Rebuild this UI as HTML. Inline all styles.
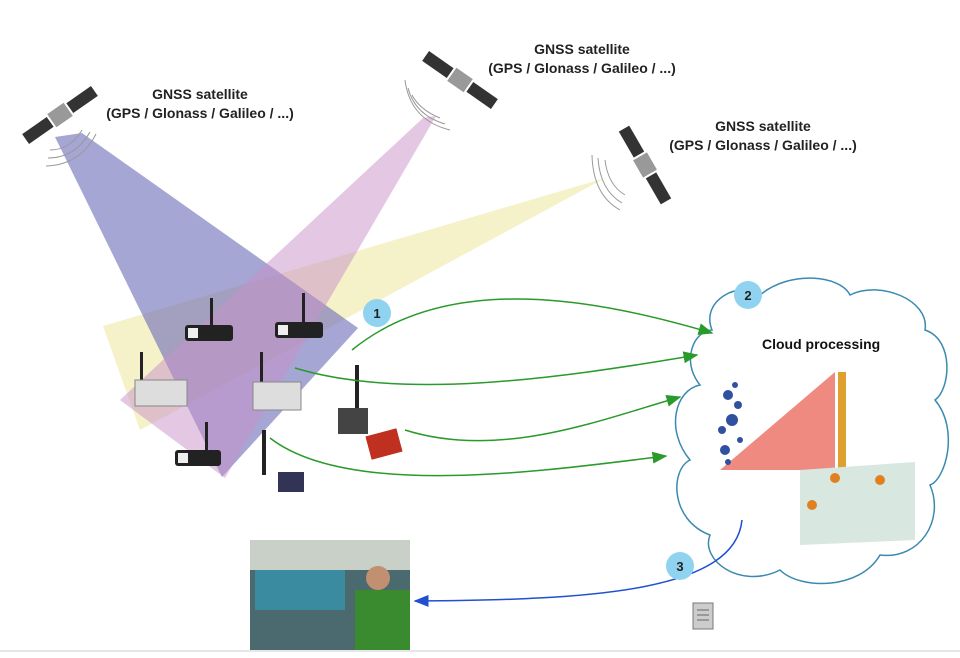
<!DOCTYPE html>
<html><head><meta charset="utf-8"><style>
html,body{margin:0;padding:0;background:#fff;width:960px;height:658px;overflow:hidden}
svg{display:block}
text{font-family:"Liberation Sans",sans-serif}
</style></head><body>
<svg width="960" height="658" viewBox="0 0 960 658" xmlns="http://www.w3.org/2000/svg">
<defs>
<marker id="ag" markerWidth="10" markerHeight="8" refX="9" refY="4" orient="auto"><path d="M0,0 L10,4 L0,8 z" fill="#2a9a2a"/></marker>
<marker id="ab" markerWidth="10" markerHeight="8" refX="9" refY="4" orient="auto"><path d="M0,0 L10,4 L0,8 z" fill="#2050d0"/></marker>
</defs>
<rect width="960" height="658" fill="#fff"/>
<!-- beams -->
<polygon points="605,178 103,326 140,430" fill="#f3efbf" opacity="0.85"/>
<polygon points="55,137 82,133 358,328 222,477" fill="#6a6ab8" opacity="0.6"/>
<polygon points="423,118 436,116 225,478 120,400" fill="#c890c8" opacity="0.5"/>
<!-- satellites -->
<g transform="translate(60,115) rotate(-35)">
<rect x="-42" y="-6" width="30" height="12" fill="#333"/><rect x="12" y="-6" width="30" height="12" fill="#333"/>
<rect x="-10" y="-8" width="20" height="16" fill="#999"/></g>
<g transform="translate(460,80) rotate(35)">
<rect x="-42" y="-6" width="30" height="12" fill="#333"/><rect x="12" y="-6" width="30" height="12" fill="#333"/>
<rect x="-10" y="-8" width="20" height="16" fill="#999"/></g>
<g transform="translate(645,165) rotate(60)">
<rect x="-42" y="-6" width="30" height="12" fill="#333"/><rect x="12" y="-6" width="30" height="12" fill="#333"/>
<rect x="-10" y="-8" width="20" height="16" fill="#999"/></g>
<g fill="none" stroke="#999" stroke-width="1">
<path d="M50,150 Q70,150 82,130"/><path d="M48,158 Q75,158 90,132"/><path d="M46,166 Q80,165 96,134"/>
<path d="M412,95 Q420,110 440,118"/><path d="M408,88 Q415,115 445,124"/><path d="M405,80 Q410,120 450,130"/>
<path d="M605,160 Q608,185 625,195"/><path d="M598,158 Q600,190 622,203"/><path d="M592,155 Q593,195 620,210"/>
</g>
<g font-size="14" font-weight="bold" fill="#222" text-anchor="middle">
<text x="200" y="99">GNSS satellite</text><text x="200" y="118">(GPS / Glonass / Galileo / ...)</text>
<text x="582" y="54">GNSS satellite</text><text x="582" y="73">(GPS / Glonass / Galileo / ...)</text>
<text x="763" y="131">GNSS satellite</text><text x="763" y="150">(GPS / Glonass / Galileo / ...)</text>
</g>
<!-- devices -->
<g fill="#222">
<rect x="185" y="325" width="48" height="16" rx="3"/><rect x="210" y="298" width="3" height="28"/>
<rect x="275" y="322" width="48" height="16" rx="3"/><rect x="302" y="293" width="3" height="30"/>
<rect x="175" y="450" width="46" height="16" rx="3"/><rect x="205" y="422" width="3" height="30"/>
<rect x="140" y="352" width="3" height="30"/><rect x="260" y="352" width="3" height="30"/>
<rect x="355" y="365" width="4" height="45"/><rect x="262" y="430" width="4" height="45"/>
</g>
<g fill="#eee"><rect x="188" y="328" width="10" height="10"/><rect x="278" y="325" width="10" height="10"/><rect x="178" y="453" width="10" height="10"/></g>
<rect x="135" y="380" width="52" height="26" fill="#ddd" stroke="#888"/>
<rect x="253" y="382" width="48" height="28" fill="#ddd" stroke="#888"/>
<rect x="338" y="408" width="30" height="26" fill="#444"/>
<rect x="368" y="432" width="32" height="24" fill="#c03020" transform="rotate(-15 384 444)"/>
<rect x="278" y="472" width="26" height="20" fill="#335" />
<!-- cloud -->
<path d="M712,330 C700,300 740,280 760,295 C790,270 840,275 850,295 C880,280 930,300 925,330 C955,340 950,390 935,400 C960,430 945,480 930,485 C945,520 920,560 880,555 C860,590 800,590 780,570 C740,590 700,560 710,535 C670,520 670,470 690,460 C665,430 675,390 700,385 C680,360 695,330 712,330 Z" fill="#fff" stroke="#3a8ab0" stroke-width="1.5"/>
<text x="762" y="349" font-size="14" font-weight="bold" fill="#111">Cloud processing</text>
<polygon points="720,470 835,372 835,470" fill="#ee8a80"/>
<rect x="838" y="372" width="8" height="98" fill="#e0a030"/>
<g fill="#3050a0"><circle cx="728" cy="395" r="5"/><circle cx="732" cy="420" r="6"/><circle cx="725" cy="450" r="5"/><circle cx="738" cy="405" r="4"/><circle cx="735" cy="385" r="3"/><circle cx="722" cy="430" r="4"/><circle cx="740" cy="440" r="3"/><circle cx="728" cy="462" r="3"/></g>
<polygon points="800,470 915,462 915,540 800,545" fill="#d8e8e0"/>
<circle cx="835" cy="478" r="5" fill="#e08020"/><circle cx="880" cy="480" r="5" fill="#e08020"/><circle cx="812" cy="505" r="5" fill="#e08020"/>
<!-- arrows -->
<g fill="none" stroke="#2a9a2a" stroke-width="1.5" marker-end="url(#ag)">
<path d="M352,350 C450,270 600,300 712,333"/>
<path d="M295,368 C400,400 550,380 697,355"/>
<path d="M405,430 C500,460 600,420 680,397"/>
<path d="M270,438 C350,500 550,470 666,456"/>
</g>
<path d="M742,520 C735,590 600,600 415,601" fill="none" stroke="#2050d0" stroke-width="1.5" marker-end="url(#ab)"/>
<!-- numbers -->
<g font-size="13" font-weight="bold" fill="#222" text-anchor="middle">
<circle cx="377" cy="313" r="14" fill="#8fd3f0"/><text x="377" y="318">1</text>
<circle cx="748" cy="295" r="14" fill="#8fd3f0"/><text x="748" y="300">2</text>
<circle cx="680" cy="566" r="14" fill="#8fd3f0"/><text x="680" y="571">3</text>
</g>
<!-- photo -->
<rect x="250" y="540" width="160" height="110" fill="#4a6a70"/>
<rect x="250" y="540" width="160" height="30" fill="#c8d0c8"/>
<rect x="255" y="570" width="90" height="40" fill="#3a8aa0"/>
<rect x="355" y="590" width="55" height="60" fill="#3a8a30"/>
<circle cx="378" cy="578" r="12" fill="#c09070"/>
<!-- doc -->
<rect x="693" y="603" width="20" height="26" fill="#ccc" stroke="#777"/>
<g stroke="#666"><line x1="697" y1="610" x2="709" y2="610"/><line x1="697" y1="615" x2="709" y2="615"/><line x1="697" y1="620" x2="709" y2="620"/></g>
<line x1="0" y1="651" x2="960" y2="651" stroke="#ccc"/>
</svg>
</body></html>
